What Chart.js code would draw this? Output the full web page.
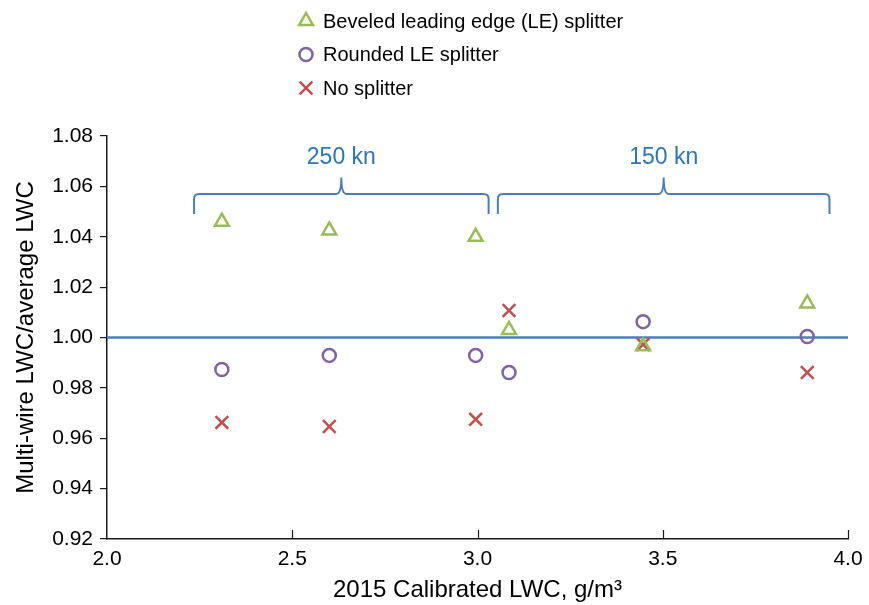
<!DOCTYPE html>
<html>
<head>
<meta charset="utf-8">
<script src="https://cdn.jsdelivr.net/npm/chart.js@4/dist/chart.umd.min.js"></script>
<style>
  html, body { margin: 0; padding: 0; background: #fff; }
  #wrap { width: 869px; height: 605px; position: relative; }
</style>
</head>
<body>
<div id="wrap"><canvas id="lwc-chart"></canvas></div>
<script>
// Calibrated LWC (g/m3) for each run
const calibratedLwc = [2.31, 2.60, 2.995, 3.085, 3.447, 3.89];

// Multi-wire LWC / average LWC per splitter configuration
const beveledLe = [1.046, 1.0425, 1.040, 1.003, 0.9965, 1.0135];
const roundedLe = [0.9873, 0.9929, 0.9929, 0.9861, 1.0063, 1.0004];
const noSplitter = [0.9663, 0.9647, 0.9675, 1.0107, 0.9972, 0.9861];

const seriesNames = ['Beveled leading edge (LE) splitter', 'Rounded LE splitter', 'No splitter'];
const xTicks = [2.0, 2.5, 3.0, 3.5, 4.0];
const yTicks = [0.92, 0.94, 0.96, 0.98, 1.00, 1.02, 1.04, 1.06, 1.08];

// airspeed groups marked with braces above the points
const groupLabels = ['250 kn', '150 kn'];
const groupFrom = [2.235, 3.055];
const groupTo = [3.03, 3.95];

const colors = {
    green: '#9bbb59',
    purple: '#8064a2',
    red: '#c0504d',
    blue: '#4a7ebb',
    label: '#2e75b6',
    text: '#000000'
};
const family = 'Liberation Sans, Arial, sans-serif';
const tickFont = { family: family, size: 21 };
const titleFont = { family: family, size: 24 };

const markers = [
    { color: colors.green, style: 'triangle', radius: 8 },
    { color: colors.purple, style: 'circle', radius: 6.5 },
    { color: colors.red, style: 'crossRot', radius: 9 }
];

const toPoints = ys => ys.map((y, i) => ({ x: calibratedLwc[i], y: y }));

const markerStyle = m => ({
    pointStyle: m.style,
    borderColor: m.color,
    backgroundColor: 'rgba(0,0,0,0)',
    pointBorderColor: m.color,
    pointBackgroundColor: 'rgba(0,0,0,0)',
    pointRadius: m.radius,
    pointBorderWidth: 2.5,
    showLine: false
});

// legend stacked at the top, drawn by hand
const legendPlugin = {
    id: 'stackLegend',
    afterDraw(chart) {
        const ctx = chart.ctx;
        ctx.save();
        ctx.font = `20px ${family}`;
        ctx.textBaseline = 'middle';
        seriesNames.forEach((name, i) => {
            const y = 21 + i * 33.5;
            const m = markers[i];
            ctx.strokeStyle = m.color;
            ctx.fillStyle = 'rgba(0,0,0,0)';
            ctx.lineWidth = 2.5;
            Chart.helpers.drawPoint(ctx, { pointStyle: m.style, radius: m.radius, borderWidth: 2.5 }, 306, y);
            ctx.fillStyle = colors.text;
            ctx.fillText(name, 323, y + 1);
        });
        ctx.restore();
    }
};

// inward ticks on the x axis and the brace annotations
const annotatePlugin = {
    id: 'annotate',
    afterDatasetsDraw(chart) {
        const ctx = chart.ctx;
        const xs = chart.scales.x;
        const ys = chart.scales.y;
        const bottom = chart.chartArea.bottom;
        ctx.save();

        ctx.strokeStyle = '#1a1a1a';
        ctx.lineWidth = 1.2;
        xTicks.slice(1).forEach(v => {
            const px = Math.round(xs.getPixelForValue(v)) + 0.5;
            ctx.beginPath();
            ctx.moveTo(px, bottom);
            ctx.lineTo(px, bottom - 9);
            ctx.stroke();
        });

        const yTop = ys.getPixelForValue(1.057);
        const yEnd = ys.getPixelForValue(1.049);
        const yPeak = ys.getPixelForValue(1.0635);
        ctx.strokeStyle = colors.blue;
        ctx.lineWidth = 2;
        groupLabels.forEach((label, i) => {
            const x1 = xs.getPixelForValue(groupFrom[i]);
            const x2 = xs.getPixelForValue(groupTo[i]);
            const xm = (x1 + x2) / 2;
            const r = 5;
            ctx.beginPath();
            ctx.moveTo(x1, yEnd);
            ctx.lineTo(x1, yTop + r);
            ctx.quadraticCurveTo(x1, yTop, x1 + r, yTop);
            ctx.lineTo(xm - r, yTop);
            ctx.quadraticCurveTo(xm, yTop, xm, yPeak);
            ctx.quadraticCurveTo(xm, yTop, xm + r, yTop);
            ctx.lineTo(x2 - r, yTop);
            ctx.quadraticCurveTo(x2, yTop, x2, yTop + r);
            ctx.lineTo(x2, yEnd);
            ctx.stroke();

            ctx.fillStyle = colors.label;
            ctx.font = `23px ${family}`;
            ctx.textAlign = 'center';
            ctx.textBaseline = 'middle';
            ctx.fillText(label, xm, yPeak - 20);
        });
        ctx.restore();
    }
};

new Chart(document.getElementById('lwc-chart'), {
    type: 'scatter',
    data: {
        datasets: [
            {
                label: 'Reference',
                data: [{ x: 2.0, y: 1.0 }, { x: 4.0, y: 1.0 }],
                showLine: true,
                borderColor: colors.blue,
                borderWidth: 2.5,
                pointRadius: 0,
                order: 5
            },
            Object.assign({ label: seriesNames[0], data: toPoints(beveledLe) }, markerStyle(markers[0])),
            Object.assign({ label: seriesNames[1], data: toPoints(roundedLe) }, markerStyle(markers[1])),
            Object.assign({ label: seriesNames[2], data: toPoints(noSplitter) }, markerStyle(markers[2]))
        ]
    },
    options: {
        responsive: true,
        maintainAspectRatio: false,
        animation: false,
        layout: { padding: { top: 136, right: 21, left: 0, bottom: 0 } },
        plugins: {
            legend: { display: false },
            tooltip: { enabled: false }
        },
        scales: {
            x: {
                type: 'linear',
                min: 2.0,
                max: 4.0,
                afterFit: s => { s.height = 66; },
                afterBuildTicks: s => { s.ticks = xTicks.map(v => ({ value: v })); },
                grid: { display: false },
                border: { display: true, color: '#1a1a1a', width: 1.5 },
                ticks: {
                    color: colors.text,
                    font: tickFont,
                    padding: 0,
                    callback: v => v.toFixed(1)
                },
                title: {
                    display: true,
                    text: '2015 Calibrated LWC, g/m³',
                    color: colors.text,
                    font: titleFont,
                    padding: { top: 0, bottom: 0 }
                }
            },
            y: {
                type: 'linear',
                min: 0.92,
                max: 1.08,
                afterFit: s => { s.width = 107; },
                afterBuildTicks: s => { s.ticks = yTicks.map(v => ({ value: v })); },
                grid: {
                    drawOnChartArea: false,
                    drawTicks: true,
                    tickLength: 7,
                    color: '#1a1a1a',
                    lineWidth: 1.2
                },
                border: { display: true, color: '#1a1a1a', width: 1.5 },
                ticks: {
                    color: colors.text,
                    font: tickFont,
                    padding: 7,
                    callback: v => v.toFixed(2)
                },
                title: {
                    display: true,
                    text: 'Multi-wire LWC/average LWC',
                    color: colors.text,
                    font: titleFont,
                    padding: { top: 12, bottom: 0 }
                }
            }
        }
    },
    plugins: [legendPlugin, annotatePlugin]
});
</script>
</body>
</html>
